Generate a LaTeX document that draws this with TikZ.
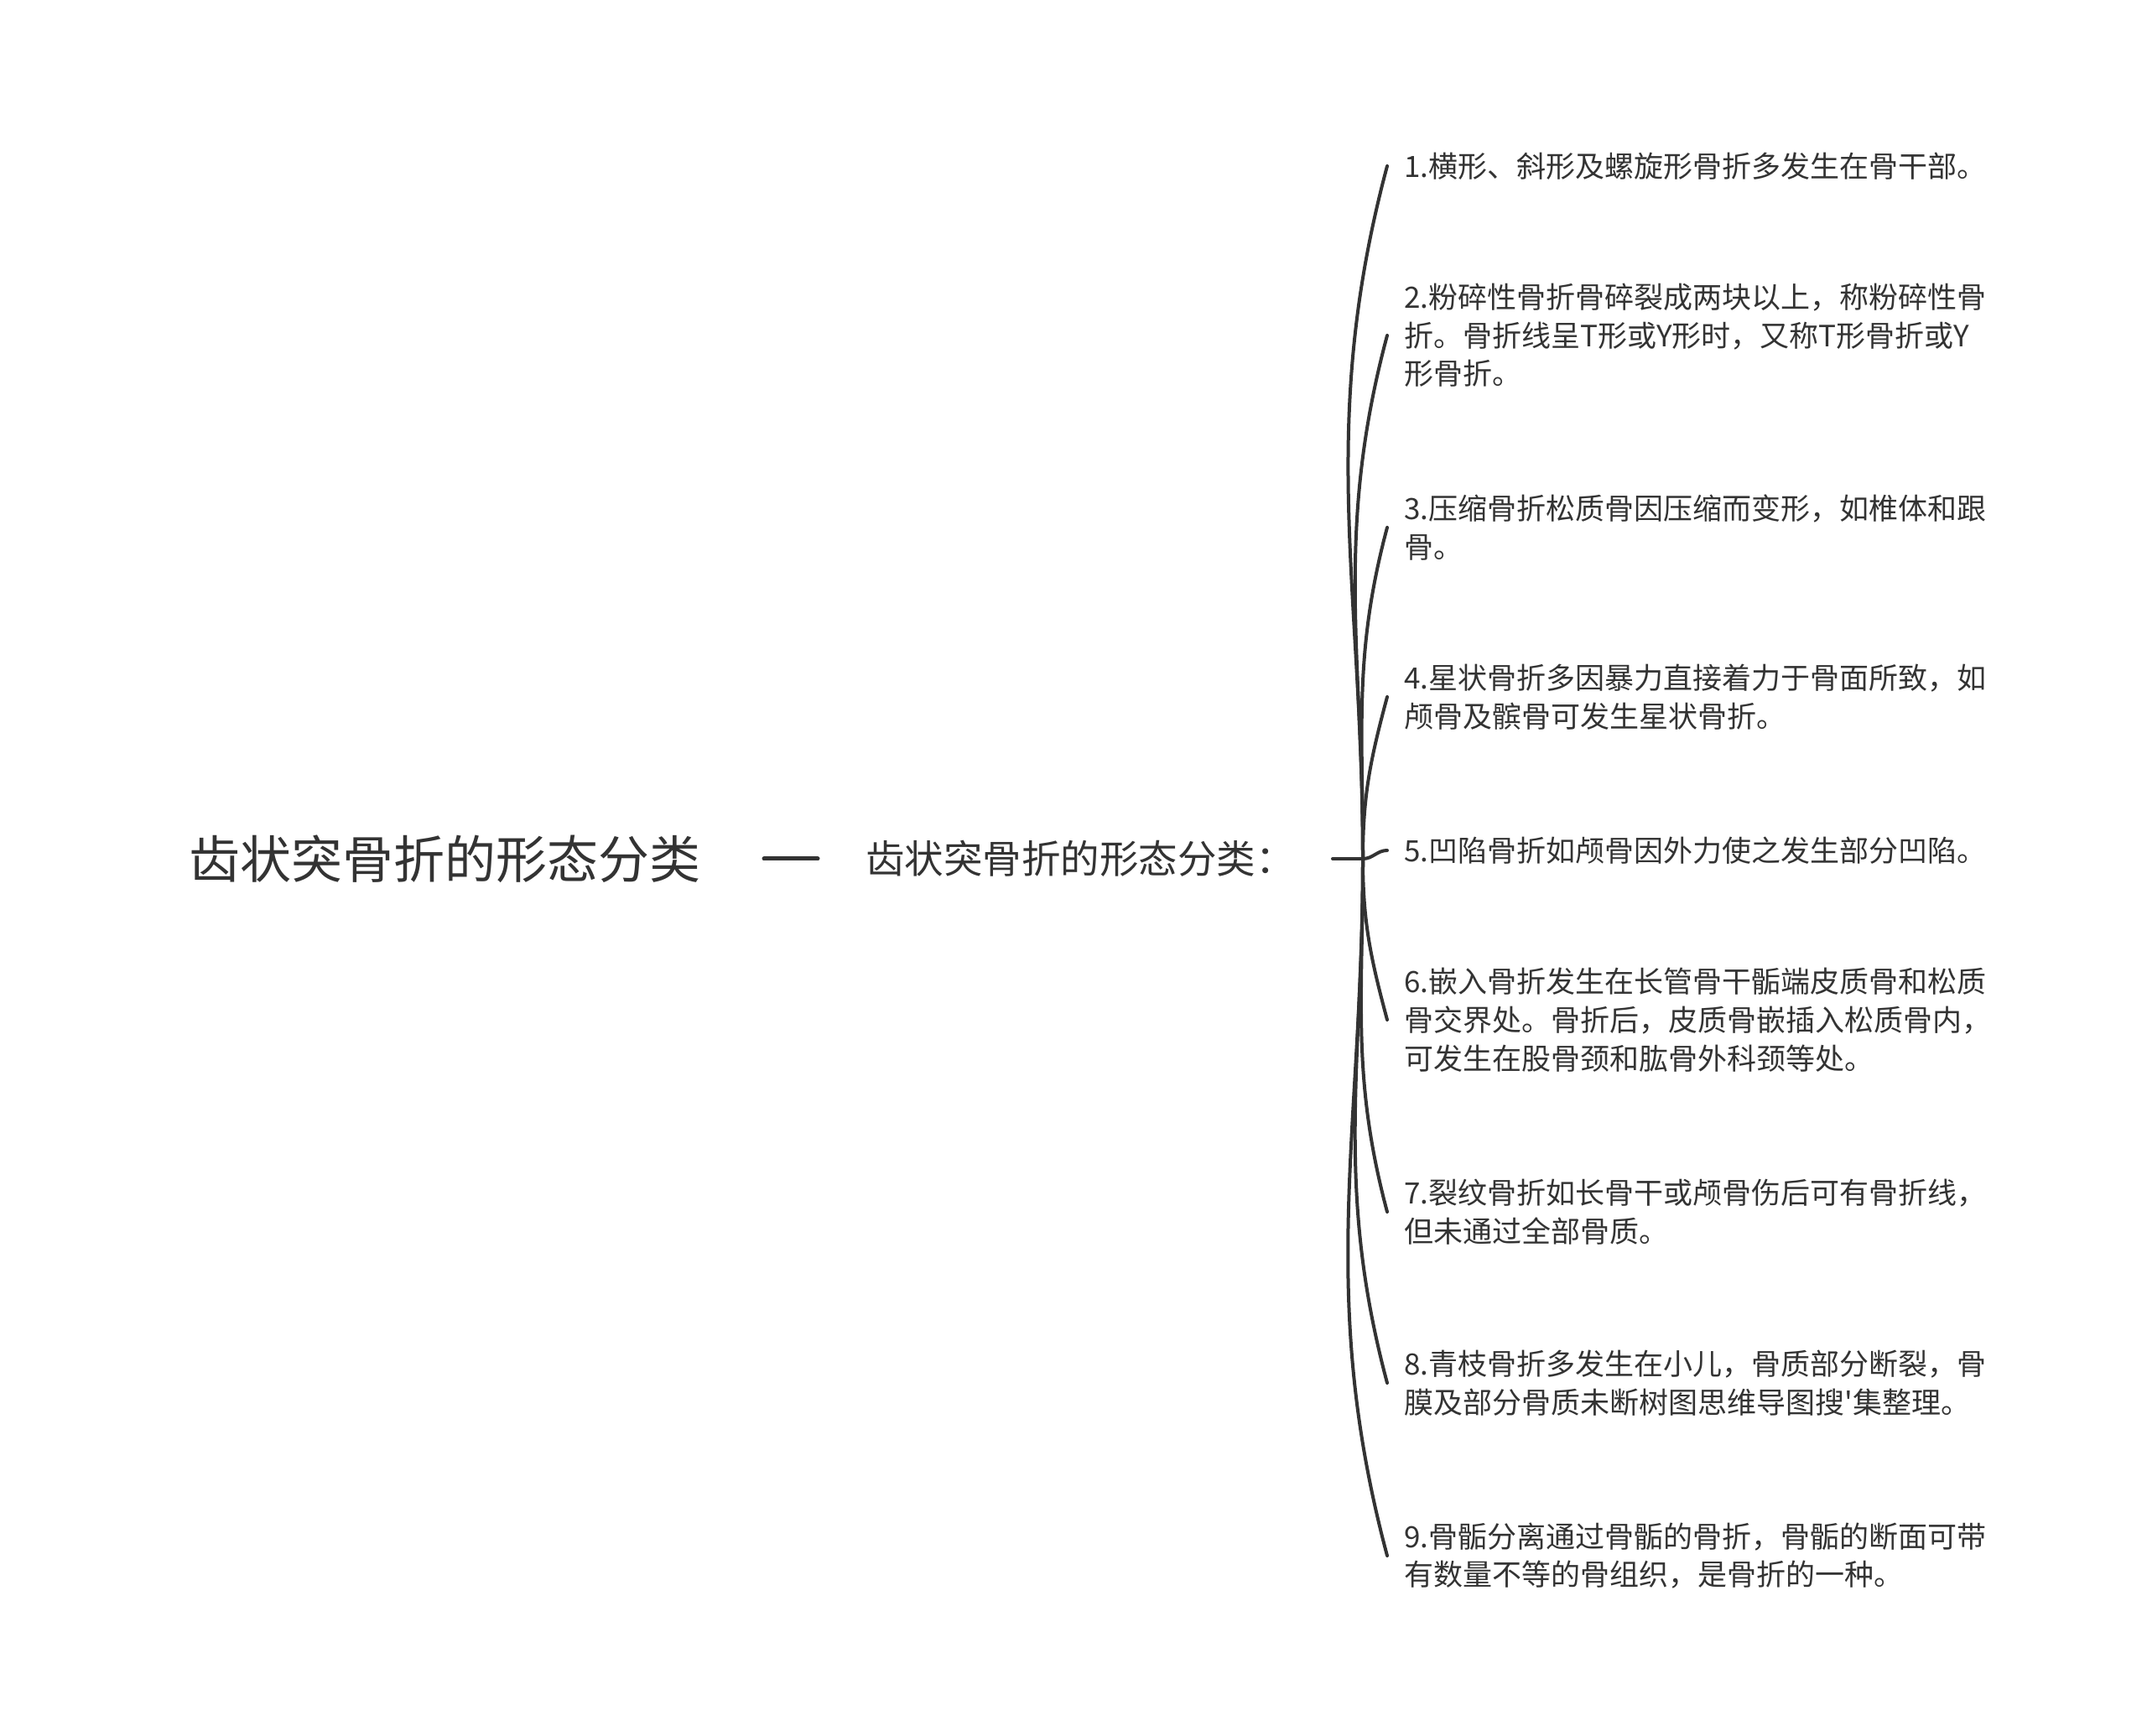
\documentclass[tikz,border=0pt]{standalone}
\usepackage{fontspec}
\newfontfamily\cjk[Ligatures=TeXOff]{Noto Sans CJK SC}
\definecolor{ink}{HTML}{333333}
\tikzset{
  rootnode/.style={anchor=west,inner sep=0pt,text=ink,font=\cjk\fontsize{30.5pt}{36pt}\selectfont},
  midnode/.style={anchor=west,inner sep=0pt,text=ink,font=\cjk\fontsize{23.25pt}{28pt}\selectfont},
  leaf/.style={anchor=west,align=left,inner xsep=10pt,inner ysep=0pt,text=ink,
    font=\cjk\fontsize{17.5pt}{22.85pt}\selectfont},
  branch/.style={draw=ink,line width=2pt,line cap=round}
}
\begin{document}
\begin{tikzpicture}
  \useasboundingbox (0,0) rectangle (1280pt,1034.5pt);
  \node[rootnode] (root) at (112.5pt,522.5pt) {齿状突骨折的形态分类};
  \node[midnode] (mid) at (516pt,522.5pt) {齿状突骨折的形态分类：};
  \coordinate (dashl) at (455.5pt,522.5pt);
  \coordinate (dashr) at (487.5pt,522.5pt);
  \coordinate (midr) at (794.5pt,522.5pt);
  \coordinate (hub) at (812.5pt,522.5pt);
  \node[leaf] (l1) at (827pt,935.5pt) {1.横形、斜形及螺旋形骨折多发生在骨干部。};
  \node[leaf] (l2) at (827pt,834.5pt) {2.粉碎性骨折骨碎裂成两块以上，称粉碎性骨\\折。骨折线呈T形或Y形时，又称T形骨折或Y\\形骨折。};
  \node[leaf] (l3) at (827pt,720pt) {3.压缩骨折松质骨因压缩而变形，如椎体和跟\\骨。};
  \node[leaf] (l4) at (827pt,619pt) {4.星状骨折多因暴力直接着力于骨面所致，如\\颅骨及髌骨可发生星状骨折。};
  \node[leaf] (l5) at (827pt,527.5pt) {5.凹陷骨折如颅骨因外力使之发生部分凹陷。};
  \node[leaf] (l6) at (827pt,426.5pt) {6.嵌入骨折发生在长管骨干骺端皮质骨和松质\\骨交界处。骨折后，皮质骨嵌插入松质骨内，\\可发生在股骨颈和肱骨外科颈等处。};
  \node[leaf] (l7) at (827pt,312pt) {7.裂纹骨折如长骨干或颅骨伤后可有骨折线，\\但未通过全部骨质。};
  \node[leaf] (l8) at (827pt,210pt) {8.青枝骨折多发生在小儿，骨质部分断裂，骨\\膜及部分骨质未断树图思维导图搜'集整理。};
  \node[leaf] (l9) at (827pt,107pt) {9.骨骺分离通过骨骺的骨折，骨骺的断面可带\\有数量不等的骨组织，是骨折的一种。};
  \begin{scope}[branch]
    \draw[line width=2.5pt] (dashl) -- (dashr);
    \draw (midr) -- (hub);
    \foreach \i in {1,...,4}
      \draw (hub) to[out=90,in=255] (l\i.west);
    \draw (hub) to[out=0,in=180] (l5.west);
    \foreach \i in {6,...,9}
      \draw (hub) to[out=-90,in=105] (l\i.west);
  \end{scope}
\end{tikzpicture}
\end{document}
